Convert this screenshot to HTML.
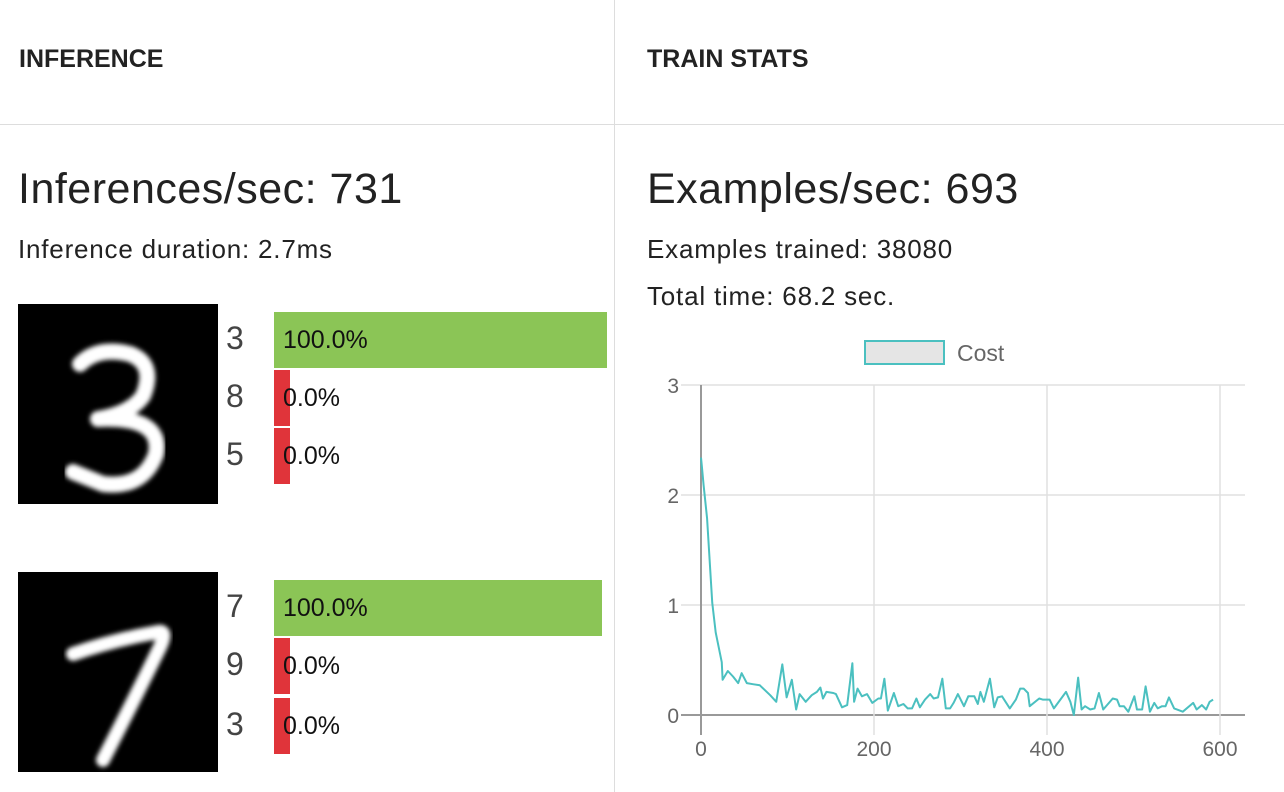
<!DOCTYPE html>
<html><head><meta charset="utf-8"><style>
body{margin:0;width:1284px;height:792px;background:#fff;font-family:"Liberation Sans",sans-serif;color:#222;overflow:hidden;position:relative}
.abs{position:absolute}
.hdr{font-weight:bold;font-size:25px;top:45px}
.big{font-size:43px;top:165px;letter-spacing:0.5px}
.sub{font-size:26px;letter-spacing:0.8px}
.lbl{font-size:32px;color:#444;left:226px}
.pct{font-size:25px;left:283px;color:#111}
</style></head><body>
<div class="abs" style="left:0;top:124px;width:1284px;height:1px;background:#ddd"></div>
<div class="abs" style="left:614px;top:0;width:1px;height:792px;background:#ddd"></div>
<div class="abs hdr" style="left:19px">INFERENCE</div>
<div class="abs hdr" style="left:647px">TRAIN STATS</div>
<div class="abs big" style="left:18px">Inferences/sec: 731</div>
<div class="abs sub" style="left:18px;top:234px">Inference duration: 2.7ms</div>
<div class="abs big" style="left:647px">Examples/sec: 693</div>
<div class="abs sub" style="left:647px;top:234px">Examples trained: 38080</div>
<div class="abs sub" style="left:647px;top:281px">Total time: 68.2 sec.</div>

<svg class="abs" style="left:18px;top:304px" width="200" height="200"><defs><filter id="b"><feGaussianBlur stdDeviation="2.5"/></filter></defs><rect width="200" height="200" fill="#000"/><path d="M62 60 Q80 42 112 50 Q138 60 125 92 Q112 110 80 115 Q145 112 138 150 Q125 185 85 180 L55 168" fill="none" stroke="#fff" stroke-width="16" stroke-linecap="round" stroke-linejoin="round" filter="url(#b)"/></svg>
<div class="abs lbl" style="top:320px">3</div>
<div class="abs" style="left:274px;top:312px;width:333px;height:56px;background:#8bc556"></div>
<div class="abs pct" style="top:326px">100.0%</div>
<div class="abs lbl" style="top:378px">8</div>
<div class="abs" style="left:274px;top:370px;width:16px;height:56px;background:#e0343a"></div>
<div class="abs pct" style="top:384px">0.0%</div>
<div class="abs lbl" style="top:436px">5</div>
<div class="abs" style="left:274px;top:428px;width:16px;height:56px;background:#e0343a"></div>
<div class="abs pct" style="top:442px">0.0%</div>

<svg class="abs" style="left:18px;top:572px" width="200" height="200"><rect width="200" height="200" fill="#000"/><path d="M55 82 Q95 68 140 60 Q150 58 142 75 Q115 130 85 188" fill="none" stroke="#fff" stroke-width="14" stroke-linecap="round" stroke-linejoin="round" filter="url(#b)"/></svg>
<div class="abs lbl" style="top:588px">7</div>
<div class="abs" style="left:274px;top:580px;width:328px;height:56px;background:#8bc556"></div>
<div class="abs pct" style="top:594px">100.0%</div>
<div class="abs lbl" style="top:646px">9</div>
<div class="abs" style="left:274px;top:638px;width:16px;height:56px;background:#e0343a"></div>
<div class="abs pct" style="top:652px">0.0%</div>
<div class="abs lbl" style="top:706px">3</div>
<div class="abs" style="left:274px;top:698px;width:16px;height:56px;background:#e0343a"></div>
<div class="abs pct" style="top:712px">0.0%</div>

<svg id="chart" class="abs" style="left:0;top:0" width="1284" height="792"></svg>
<script>
const xs=[0,1,3,7,13,17,24,25,31,37,43,47,53,60,68,80,87,94,99,105,110,114,121,128,134,138,141,145,153,156,163,169,175,177,181,186,192,198,205,208,212,216,223,228,234,239,244,249,253,259,265,269,274,279,283,288,292,297,304,309,316,320,323,327,334,339,343,348,357,364,369,373,378,380,391,395,403,408,422,427,431,436,440,444,450,455,460,465,476,481,484,489,494,501,504,510,514,519,524,528,533,537,541,547,557,569,573,579,584,588,592];
const costs=[2.34,2.26,2.09,1.79,1.02,0.75,0.48,0.32,0.40,0.35,0.29,0.38,0.29,0.28,0.27,0.18,0.12,0.46,0.16,0.32,0.05,0.19,0.12,0.18,0.21,0.25,0.15,0.21,0.20,0.19,0.07,0.09,0.47,0.12,0.24,0.17,0.19,0.11,0.15,0.15,0.33,0.04,0.20,0.08,0.10,0.06,0.06,0.15,0.07,0.14,0.19,0.15,0.16,0.33,0.06,0.06,0.11,0.19,0.08,0.17,0.17,0.10,0.21,0.12,0.33,0.07,0.16,0.17,0.06,0.14,0.24,0.24,0.20,0.08,0.15,0.14,0.14,0.06,0.21,0.12,0.00,0.34,0.05,0.08,0.05,0.06,0.20,0.05,0.15,0.14,0.08,0.08,0.03,0.17,0.05,0.05,0.26,0.03,0.11,0.06,0.08,0.08,0.16,0.06,0.03,0.11,0.05,0.09,0.05,0.12,0.14];
const xTicks=[0,200,400,600];
const yTicks=[0,1,2,3];
const NS='http://www.w3.org/2000/svg';
const svg=document.getElementById('chart');
const X=v=>701+v*(1220-701)/600;
const Y=v=>715-v*110;
function mk(t,a){const e=document.createElementNS(NS,t);for(const k in a)e.setAttribute(k,a[k]);svg.appendChild(e);return e;}
yTicks.forEach(t=>{
  const l=mk('line',{x1:681,x2:1245,y1:Y(t),y2:Y(t),stroke:t===0?'#999':'#e0e0e0','stroke-width':t===0?2:1.5});
  
  
  const tx=mk('text',{x:679,y:Y(t)+8,'text-anchor':'end','font-size':21,fill:'#666','font-family':'Liberation Sans, sans-serif'});
  tx.textContent=t;
  
  
});
xTicks.forEach(t=>{
  const l=mk('line',{x1:X(t),x2:X(t),y1:385,y2:735,stroke:t===0?'#999':'#e0e0e0','stroke-width':t===0?2:1.5});
  
  
  const tx=mk('text',{x:X(t),y:756,'text-anchor':'middle','font-size':21,fill:'#666','font-family':'Liberation Sans, sans-serif'});
  tx.textContent=t;
  
  
});
const p=mk('polyline',{points:xs.map((x,i)=>X(x)+','+Y(costs[i])).join(' '),fill:'none',stroke:'#4bc0c0','stroke-width':2,'stroke-linejoin':'round'});


const lb=mk('rect',{x:865,y:341,width:79,height:23,fill:'#e5e5e5',stroke:'#4bc0c0','stroke-width':2});


const lt=mk('text',{x:957,y:361,'font-size':23,fill:'#666','font-family':'Liberation Sans, sans-serif'});
lt.textContent='Cost';


</script>
</body></html>
